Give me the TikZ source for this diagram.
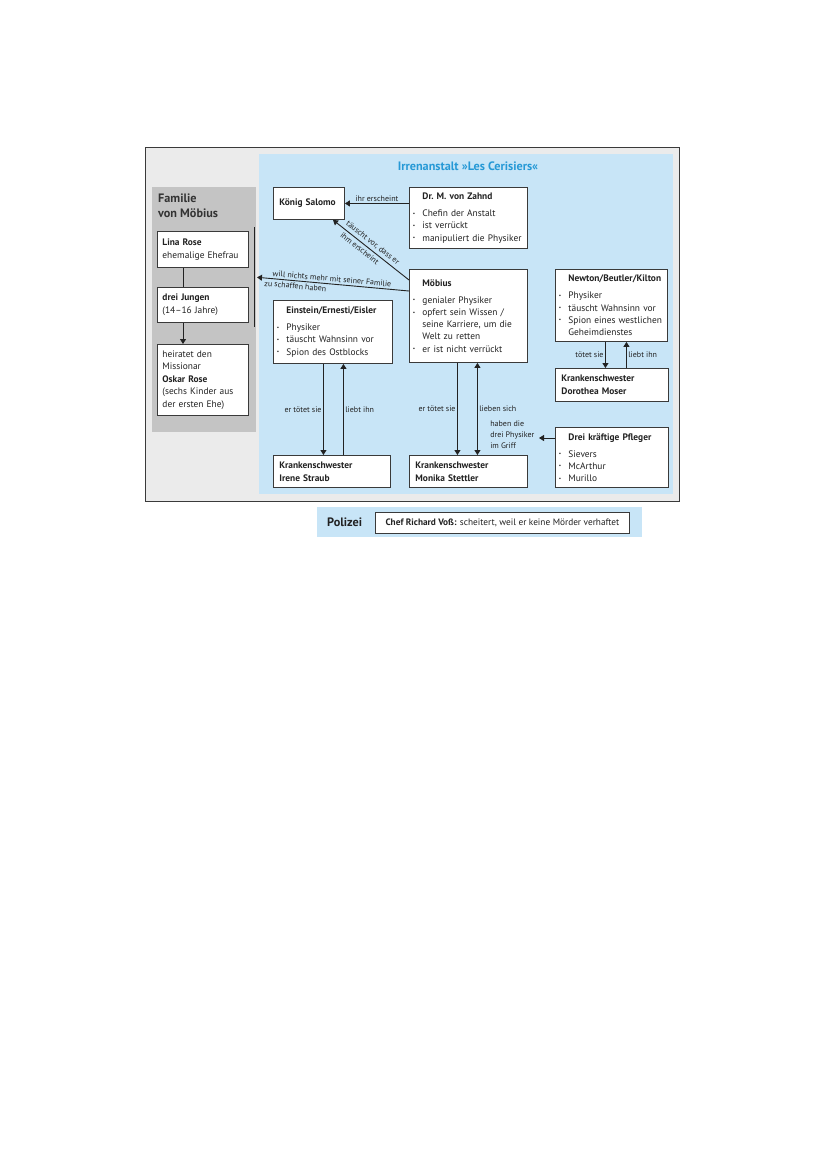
\documentclass[tikz,border=0pt]{standalone}
\usepackage{fontspec}
\setmainfont{PT Sans}
\usetikzlibrary{arrows.meta,calc}
\definecolor{bluebg}{HTML}{C8E5F7}
\definecolor{outerbg}{HTML}{EBEBEB}
\definecolor{fambg}{HTML}{C4C4C4}
\definecolor{ink}{HTML}{222222}
\definecolor{frame}{HTML}{3A3A3A}
\definecolor{titleblue}{HTML}{2699D6}
\definecolor{famtext}{HTML}{333333}
\newcommand{\bodyfont}{\fontsize{9.4}{12.2}\selectfont}
\newcommand{\labfont}{\fontsize{8}{11}\selectfont}
\newcommand{\famfont}{\fontsize{12.2}{15}\selectfont\bfseries}
\newcommand{\titlefont}{\fontsize{12.2}{14}\selectfont\bfseries}
\newcommand{\polfont}{\fontsize{12.2}{14}\selectfont\bfseries}
\newcommand{\polboxfont}{\fontsize{9.3}{11}\selectfont}
\newcommand{\bxbul}{\raisebox{0.3ex}{\scalebox{0.55}{•}}}
\newcommand{\bxtitle}[1]{\noindent\hspace*{13pt}\textbf{#1}\par\vspace{4.8pt}}
\newcommand{\bxitem}[1]{\par\noindent\makebox[13pt][l]{\hspace*{3.5pt}\bxbul}#1}
\newcommand{\bxcont}[1]{\par\noindent\hspace*{13pt}#1}
\begin{document}
\begin{tikzpicture}[x=1pt,y=-1pt,
  every node/.style={text=ink},
  bx/.style 2 args={draw=frame, fill=white, line width=0.9pt, anchor=north west,
    inner xsep=0pt, inner ysep=0pt, minimum width=#1, text width=#1,
    minimum height=#2, align=left, font=\bodyfont},
  conn/.style={draw=ink, line width=0.9pt},
  arr/.style={conn, -{Triangle[length=5pt,width=6pt]}},
  darr/.style={conn, {Triangle[length=5pt,width=6pt]}-{Triangle[length=5pt,width=6pt]}},
  lab/.style={font=\labfont, inner sep=1.5pt},
]
\useasboundingbox (0,0) rectangle (828,1171);
\fill[white] (0,0) rectangle (828,1171);
% backgrounds
\draw[fill=outerbg, draw=frame, line width=1pt] (145,147) rectangle (679,501);
\fill[bluebg] (259,154) rectangle (673,494);
\fill[fambg] (152,187) rectangle (256,432);
\node[anchor=north west, inner sep=0pt, font=\famfont, text=famtext, align=left] (famtitle) at (158,194) {Familie\\von Möbius};
\node[font=\titlefont, text=titleblue, anchor=base] (title) at (468,170) {Irrenanstalt »Les Cerisiers«};

% family
\node[bx={91pt}{36pt}] (lina) at (157,231) {\leftskip=5pt\baselineskip=13pt \textbf{Lina Rose}\par ehemalige Ehefrau\par};
\node[bx={91pt}{35pt}] (jungen) at (157,287) {\leftskip=5pt\baselineskip=13pt \textbf{drei Jungen}\par (14–16 Jahre)\par};
\node[bx={91pt}{71pt}] (heiratet) at (157,344) {\leftskip=5pt\baselineskip=12.5pt heiratet den\par Missionar\par \textbf{Oskar Rose}\par (sechs Kinder aus\par der ersten Ehe)\par};
\coordinate (brtop) at (254,227);
\coordinate (brbot) at (254,327);
\coordinate (brmid) at (254,277);
\draw[conn] (brtop) -- (brbot);
\draw[conn] ([xshift=26pt]lina.south west) -- ([xshift=26pt]jungen.north west);
\draw[arr] ([xshift=26pt]jungen.south west) -- ([xshift=26pt]heiratet.north west);

% asylum
\node[bx={71pt}{32pt}] (salomo) at (273,187) {\leftskip=6pt \textbf{König Salomo}\par};
\node[bx={118pt}{61pt}] (zahnd) at (409,187) {\bxtitle{Dr.\ M. von Zahnd}\bxitem{Chefin der Anstalt}\bxitem{ist verrückt}\bxitem{manipuliert die Physiker}\par};
\node[bx={118pt}{93pt}] (moebius) at (409,269) {\bxtitle{Möbius}\bxitem{genialer Physiker}\bxitem{opfert sein Wissen /}\bxcont{seine Karriere, um die}\bxcont{Welt zu retten}\bxitem{er ist nicht verrückt}\par};
\node[bx={119pt}{63pt}] (einstein) at (273,300) {\bxtitle{Einstein/Ernesti/Eisler}\bxitem{Physiker}\bxitem{täuscht Wahnsinn vor}\bxitem{Spion des Ostblocks}\par};
\node[bx={112pt}{72pt}] (newton) at (555,269) {\bxtitle{Newton/Beutler/Kilton}\bxitem{Physiker}\bxitem{täuscht Wahnsinn vor}\bxitem{Spion eines westlichen}\bxcont{Geheimdienstes}\par};
\node[bx={113pt}{33pt}] (dorothea) at (555,368) {\leftskip=6pt\baselineskip=13pt \textbf{Krankenschwester}\par\textbf{Dorothea Moser}\par};
\node[bx={117pt}{32pt}] (irene) at (273,455) {\leftskip=6pt\baselineskip=13pt \textbf{Krankenschwester}\par\textbf{Irene Straub}\par};
\node[bx={118pt}{32pt}] (monika) at (409,455) {\leftskip=6pt\baselineskip=13pt \textbf{Krankenschwester}\par\textbf{Monika Stettler}\par};
\node[bx={113pt}{60pt}] (pfleger) at (555,427) {\bxtitle{Drei kräftige Pfleger}\bxitem{Sievers}\bxitem{McArthur}\bxitem{Murillo}\par};

% connectors
\draw[arr] (zahnd.west |- salomo.east) -- node[lab, above]{ihr erscheint} (salomo.east);
\draw[arr] ([yshift=-11pt]moebius.north west) -- node[lab, sloped, above, pos=0.53, inner sep=2.5pt]{täuscht vor, dass er} node[lab, sloped, below, pos=0.6, inner sep=2.5pt]{ihm erscheint} ([xshift=24pt]salomo.south);
\draw[arr, shorten >=3pt] ([yshift=-22pt]moebius.north west) -- node[lab, sloped, above, pos=0.5, inner sep=2pt]{will nichts mehr mit seiner Familie} node[lab, sloped, below, pos=0.73, inner sep=2pt]{zu schaffen haben} (brmid);

\draw[arr] ([xshift=-9.5pt]einstein.south) -- node[lab,left]{er tötet sie} ([xshift=-9.5pt]einstein.south |- irene.north);
\draw[arr] ([xshift=10.5pt]einstein.south |- irene.north) -- node[lab,right]{liebt ihn} ([xshift=10.5pt]einstein.south);

\draw[arr] ([xshift=-11pt]moebius.south) -- node[lab,left]{er tötet sie} ([xshift=-11pt]moebius.south |- monika.north);
\draw[darr] ([xshift=9pt]moebius.south) -- node[lab,right]{lieben sich} ([xshift=9pt]moebius.south |- monika.north);

\draw[arr] ([xshift=-6pt]newton.south) -- node[lab,left]{tötet sie} ([xshift=-6pt]newton.south |- dorothea.north);
\draw[arr] ([xshift=15pt]newton.south |- dorothea.north) -- node[lab,right]{liebt ihn} ([xshift=15pt]newton.south);

\coordinate (griff) at (539,438);
\draw[arr] (pfleger.west |- griff) -- (griff);
\node[lab, anchor=east, align=left] (griffl) at (536,435) {haben die\\drei Physiker\\im Griff};

% police
\fill[bluebg] (317,507) rectangle (642,537);
\node[font=\polfont, anchor=base west, inner sep=0pt] (pol) at (327,526) {Polizei};
\node[draw=frame, fill=white, line width=0.9pt, minimum width=254pt, minimum height=21pt, anchor=north west, font=\polboxfont, inner sep=0pt] (chef) at (375,512) {\textbf{Chef Richard Voß:} scheitert, weil er keine Mörder verhaftet};
\end{tikzpicture}
\end{document}
